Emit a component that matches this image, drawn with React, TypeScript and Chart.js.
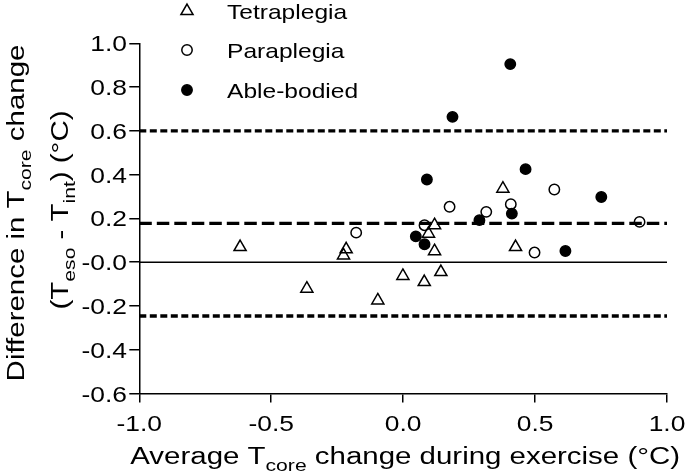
import React, { useEffect, useRef } from 'react';
import { Chart, registerables } from 'chart.js';

Chart.register(...registerables);

// ---- data ----
const tetraplegiaX = [-0.618, -0.365, -0.216, -0.226, -0.096, -0.001, 0.080, 0.143, 0.119, 0.119, 0.096, 0.378, 0.426];
const tetraplegiaY = [0.069, -0.121, 0.059, 0.031, -0.175, -0.063, -0.091, -0.045, 0.050, 0.169, 0.130, 0.336, 0.069];
const paraplegiaX = [-0.178, 0.176, 0.081, 0.315, 0.408, 0.573, 0.896, 0.498];
const paraplegiaY = [0.135, 0.253, 0.169, 0.230, 0.265, 0.332, 0.184, 0.044];
const ableBodiedX = [0.090, 0.048, 0.081, 0.464, 0.751, 0.412, 0.289, 0.615, 0.187, 0.406];
const ableBodiedY = [0.378, 0.118, 0.082, 0.425, 0.298, 0.222, 0.192, 0.051, 0.664, 0.905];

const biasValue = 0.177;
const upperLimit = 0.600;
const lowerLimit = -0.246;
const lineStartX = -1;
const lineEndX = 1;

const xTickValues = [-1, -0.5, 0, 0.5, 1];
const xTickLabels = ['-1.0', '-0.5', '0.0', '0.5', '1.0'];
const yTickValues = [-0.6, -0.4, -0.2, 0, 0.2, 0.4, 0.6, 0.8, 1.0];
const yTickLabels = ['-0.6', '-0.4', '-0.2', '-0.0', '0.2', '0.4', '0.6', '0.8', '1.0'];
const seriesNames = ['Tetraplegia', 'Paraplegia', 'Able-bodied'];

// ---- text styling ----
const FONT = '"Liberation Sans", Arial, sans-serif';

type Part = { t: string; sub?: boolean };
type TextStyle = { size: number; sub: number; shift: number; stretch: number };

const titleStyle: TextStyle = { size: 23, sub: 16.5, shift: 6.5, stretch: 1.28 };
const tickStyle: TextStyle = { size: 22, sub: 14, shift: 6, stretch: 1.2 };
const legendStyle: TextStyle = { size: 21, sub: 14, shift: 6, stretch: 1.17 };

const xTitle: Part[] = [
  { t: 'Average T' },
  { t: 'core', sub: true },
  { t: ' change during exercise (°C)' },
];
const yTitle1: Part[] = [
  { t: 'Difference in T' },
  { t: 'core', sub: true },
  { t: ' change' },
];
const yTitle2: Part[] = [
  { t: '(T' },
  { t: 'eso', sub: true },
  { t: ' - T' },
  { t: 'int', sub: true },
  { t: ') (°C)' },
];

function partsWidth(ctx: CanvasRenderingContext2D, parts: Part[], st: TextStyle) {
  let w = 0;
  for (const p of parts) {
    ctx.font = `${p.sub ? st.sub : st.size}px ${FONT}`;
    w += ctx.measureText(p.t).width;
  }
  return w * st.stretch;
}

function drawParts(
  ctx: CanvasRenderingContext2D,
  parts: Part[],
  st: TextStyle,
  x: number,
  y: number,
  align: 'left' | 'center' | 'right',
  rotate = false
) {
  const w = partsWidth(ctx, parts, st);
  ctx.save();
  ctx.translate(x, y);
  if (rotate) ctx.rotate(-Math.PI / 2);
  const start = align === 'center' ? -w / 2 : align === 'right' ? -w : 0;
  ctx.translate(start, 0);
  ctx.scale(st.stretch, 1);
  ctx.fillStyle = '#000';
  ctx.textBaseline = 'alphabetic';
  ctx.textAlign = 'left';
  let cx = 0;
  for (const p of parts) {
    ctx.font = `${p.sub ? st.sub : st.size}px ${FONT}`;
    ctx.fillText(p.t, cx, p.sub ? st.shift : 0);
    cx += ctx.measureText(p.t).width;
  }
  ctx.restore();
}

function drawMarker(ctx: CanvasRenderingContext2D, kind: number, x: number, y: number) {
  ctx.save();
  ctx.strokeStyle = '#000';
  ctx.lineWidth = 1.5;
  ctx.beginPath();
  if (kind === 0) {
    const r = 7;
    let rad = 0;
    ctx.moveTo(x + Math.sin(rad) * r, y - Math.cos(rad) * r);
    rad += (2 * Math.PI) / 3;
    ctx.lineTo(x + Math.sin(rad) * r, y - Math.cos(rad) * r);
    rad += (2 * Math.PI) / 3;
    ctx.lineTo(x + Math.sin(rad) * r, y - Math.cos(rad) * r);
    ctx.closePath();
    ctx.stroke();
  } else {
    ctx.arc(x, y, 5.2, 0, Math.PI * 2);
    if (kind === 2) {
      ctx.fillStyle = '#000';
      ctx.fill();
    }
    ctx.stroke();
  }
  ctx.restore();
}

const textPlugin = {
  id: 'customText',
  afterDraw(chart: any) {
    const ctx: CanvasRenderingContext2D = chart.ctx;
    const xs = chart.scales.x;
    const ys = chart.scales.y;
    // y tick labels
    yTickValues.forEach((v, i) => {
      drawParts(ctx, [{ t: yTickLabels[i] }], tickStyle, 127, ys.getPixelForValue(v) + 8, 'right');
    });
    // x tick labels
    xTickValues.forEach((v, i) => {
      drawParts(ctx, [{ t: xTickLabels[i] }], tickStyle, xs.getPixelForValue(v), 431, 'center');
    });
    // axis titles
    drawParts(ctx, xTitle, titleStyle, (xs.left + xs.right) / 2 + 2, 464, 'center');
    drawParts(ctx, yTitle1, titleStyle, 24, 213, 'center', true);
    drawParts(ctx, yTitle2, titleStyle, 68, 210, 'center', true);
    // legend
    const rows = [11, 50, 90];
    seriesNames.forEach((name, i) => {
      drawMarker(ctx, i, 187, rows[i]);
      drawParts(ctx, [{ t: name }], legendStyle, 227, rows[i] + 7.5, 'left');
    });
  },
};

const toPoints = (xs: number[], ys: number[]) => xs.map((x, i) => ({ x, y: ys[i] }));

export default function App() {
  const ref = useRef<HTMLCanvasElement | null>(null);

  useEffect(() => {
    if (!ref.current) return;
    const chart = new Chart(ref.current, {
      type: 'scatter',
      data: {
        datasets: [
          {
            label: seriesNames[0],
            data: toPoints(tetraplegiaX, tetraplegiaY),
            pointStyle: 'triangle',
            pointRadius: 7,
            borderColor: '#000',
            backgroundColor: 'rgba(0,0,0,0)',
            borderWidth: 1.5,
          },
          {
            label: seriesNames[1],
            data: toPoints(paraplegiaX, paraplegiaY),
            pointStyle: 'circle',
            pointRadius: 5.2,
            borderColor: '#000',
            backgroundColor: 'rgba(0,0,0,0)',
            borderWidth: 1.5,
          },
          {
            label: seriesNames[2],
            data: toPoints(ableBodiedX, ableBodiedY),
            pointStyle: 'circle',
            pointRadius: 5.2,
            borderColor: '#000',
            backgroundColor: '#000',
            borderWidth: 1.5,
          },
          {
            label: 'Upper limit',
            data: [{ x: lineStartX, y: upperLimit }, { x: lineEndX, y: upperLimit }],
            showLine: true,
            pointRadius: 0,
            borderColor: '#000',
            borderWidth: 3.3,
            borderDash: [7, 3.5],
          },
          {
            label: 'Bias',
            data: [{ x: lineStartX, y: biasValue }, { x: lineEndX, y: biasValue }],
            showLine: true,
            pointRadius: 0,
            borderColor: '#000',
            borderWidth: 3.3,
            borderDash: [12.5, 5],
          },
          {
            label: 'Lower limit',
            data: [{ x: lineStartX, y: lowerLimit }, { x: lineEndX, y: lowerLimit }],
            showLine: true,
            pointRadius: 0,
            borderColor: '#000',
            borderWidth: 3.3,
            borderDash: [7, 3.5],
          },
          {
            label: 'Zero',
            data: [{ x: lineStartX, y: 0 }, { x: lineEndX, y: 0 }],
            showLine: true,
            pointRadius: 0,
            borderColor: '#000',
            borderWidth: 1.5,
          },
        ],
      },
      options: {
        responsive: false,
        animation: false,
        devicePixelRatio: 1,
        events: [],
        layout: { padding: { top: 43.3, right: 18, left: 0, bottom: 0 } },
        plugins: { legend: { display: false }, tooltip: { enabled: false } },
        scales: {
          x: {
            type: 'linear',
            min: -1,
            max: 1,
            afterBuildTicks: (s: any) => {
              s.ticks = xTickValues.map((v) => ({ value: v }));
            },
            afterFit: (s: any) => {
              s.height = 81.5;
            },
            ticks: { display: false },
            grid: { drawOnChartArea: false, drawTicks: true, tickLength: 9, color: '#000', lineWidth: 1.5 },
            border: { display: true, color: '#000', width: 1.5 },
          },
          y: {
            type: 'linear',
            min: -0.6,
            max: 1.0,
            afterBuildTicks: (s: any) => {
              s.ticks = yTickValues.map((v) => ({ value: v }));
            },
            afterFit: (s: any) => {
              s.width = 139.3;
            },
            ticks: { display: false },
            grid: { drawOnChartArea: false, drawTicks: true, tickLength: 10, color: '#000', lineWidth: 1.5 },
            border: { display: true, color: '#000', width: 1.5 },
          },
        },
      } as any,
      plugins: [textPlugin],
    });
    return () => chart.destroy();
  }, []);

  return (
    <div style={{ position: 'absolute', left: 0, top: 0, width: 685, height: 475, background: '#fff' }}>
      <canvas ref={ref} width={685} height={475} style={{ display: 'block' }} />
    </div>
  );
}
